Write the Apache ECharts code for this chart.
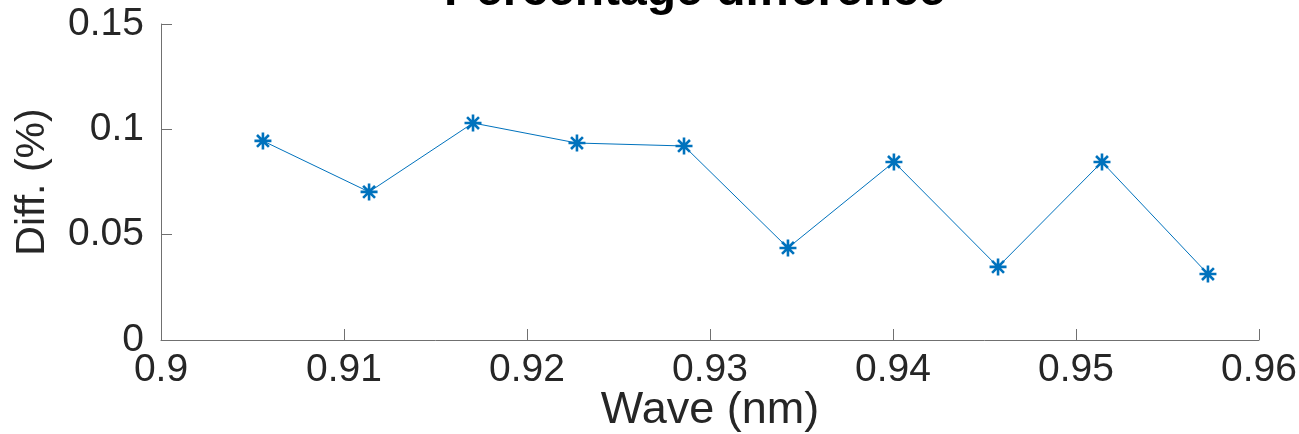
<!DOCTYPE html>
<html><head><meta charset="utf-8">
<script src="https://cdn.jsdelivr.net/npm/echarts@6/dist/echarts.min.js"></script>
<style>html,body{margin:0;padding:0;background:#fff}#c{width:1299px;height:434px}</style>
</head><body><div id="c"></div>
<script>
const waves = [0.90557, 0.91137, 0.91705, 0.92273, 0.92858, 0.93426, 0.94005, 0.94574, 0.95142, 0.95721];
const diffs = [0.0945, 0.0703, 0.1030, 0.0935, 0.0921, 0.0437, 0.0845, 0.0347, 0.0845, 0.0313];
const xTicks = [0.9, 0.91, 0.92, 0.93, 0.94, 0.95, 0.96];
const yTicks = [0, 0.05, 0.1, 0.15];

const txt = '#262626', ax = '#707070', blue = '#0072BD';
const font = "'Liberation Sans', Arial, Helvetica, sans-serif";
const chart = echarts.init(document.getElementById('c'), null, {renderer: 'canvas'});
chart.setOption({
  animation: false,
  backgroundColor: '#fff',
  grid: {left: 161, right: 40, top: 24, bottom: 94, outerBoundsMode: 'none', containLabel: false},
  graphic: [{
    type: 'text', left: 694 - 250, top: -32,
    style: {text: 'Percentage difference', fill: '#000', font: "bold 48px " + font}
  }],
  xAxis: {
    type: 'value', min: 0.9, max: 0.96, interval: 0.01,
    name: 'Wave (nm)', nameLocation: 'middle', nameGap: 48, nameMoveOverlap: false,
    nameTextStyle: {color: txt, fontSize: 45, fontFamily: font},
    axisLine: {show: true, lineStyle: {color: ax, width: 1}},
    axisTick: {show: true, inside: true, length: 11, lineStyle: {color: ax}},
    splitLine: {show: false},
    axisLabel: {color: txt, fontSize: 39, fontFamily: font, margin: 11,
      formatter: v => { const t = xTicks.find(k => Math.abs(k - v) < 1e-9); return t === undefined ? '' : String(t); }}
  },
  yAxis: {
    type: 'value', min: 0, max: 0.15, interval: 0.05,
    name: 'Diff. (%)', nameLocation: 'middle', nameGap: 108, nameMoveOverlap: false,
    nameTextStyle: {color: txt, fontSize: 41, fontFamily: font},
    axisLine: {show: true, lineStyle: {color: ax, width: 1}},
    axisTick: {show: true, inside: true, length: 11, lineStyle: {color: ax}},
    splitLine: {show: false},
    axisLabel: {color: txt, fontSize: 39, fontFamily: font, margin: 17,
      formatter: v => { const t = yTicks.find(k => Math.abs(k - v) < 1e-9); return t === undefined ? '' : String(t); }}
  },
  series: [{
    type: 'line',
    data: waves.map((w, i) => [w, diffs[i]]),
    lineStyle: {color: blue, width: 1},
    symbol: 'path://M0,-10 L0,10 M-10,0 L10,0 M-7,-7 L7,7 M-7,7 L7,-7',
    symbolSize: 17,
    showAllSymbol: true,
    itemStyle: {color: blue, borderColor: blue, borderWidth: 2.6}
  }]
});
</script></body></html>
